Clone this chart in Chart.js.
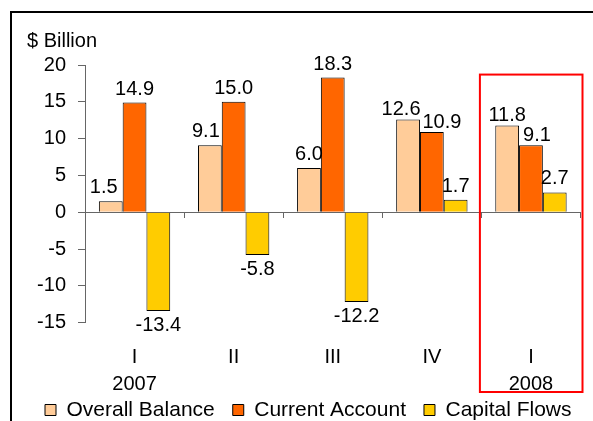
<!DOCTYPE html>
<html>
<head>
<meta charset="utf-8">
<script src="https://cdn.jsdelivr.net/npm/chart.js@4.4.1/dist/chart.umd.min.js"></script>
<style>
  html, body { margin: 0; padding: 0; background: #fff; }
  .wrap { position: relative; width: 593px; height: 421px; overflow: hidden; }
  .frame { position: absolute; left: 10px; top: 11px; width: 700px; height: 600px; border: 2px solid #000; pointer-events: none; }
</style>
</head>
<body>
<div class="wrap">
  <canvas id="bopChart" width="593" height="421"></canvas>
  <div class="frame"></div>
</div>
<script>
// quarters along the x axis, year shown under the first quarter of each year
const quarters = ['I', 'II', 'III', 'IV', 'I'];
const years = ['2007', '', '', '', '2008'];

// $ billion
const overallBalance = [1.5, 9.1, 6.0, 12.6, 11.8];
const currentAccount = [14.9, 15.0, 18.3, 10.9, 9.1];
const capitalFlows = [-13.4, -5.8, -12.2, 1.7, 2.7];

const yTicks = [-15, -10, -5, 0, 5, 10, 15, 20];

// red box around the latest quarter
const highlightIndex = 4;
const highlightTop = 18.7;

const FONT = '"Liberation Sans", Arial, sans-serif';
const AXIS_GREY = '#666';

Chart.defaults.font.family = FONT;
Chart.defaults.color = '#000';

// a few labels were nudged in the original so they don't collide
const labelNudge = {
  '0-0': [-7, 0], '0-1': [-4, 0],
  '0-3': [-7, 4], '1-3': [10, 4],
  '0-4': [0, 4], '1-4': [6, 4]
};

const valueLabels = {
  id: 'valueLabels',
  afterDatasetsDraw(chart) {
    const ctx = chart.ctx;
    ctx.save();
    ctx.font = '20px ' + FONT;
    ctx.fillStyle = '#000';
    ctx.textAlign = 'center';
    ctx.textBaseline = 'alphabetic';
    chart.data.datasets.forEach((ds, di) => {
      chart.getDatasetMeta(di).data.forEach((bar, i) => {
        const v = ds.data[i];
        const [dx, dy] = labelNudge[di + '-' + i] || [0, 0];
        const y = v >= 0 ? bar.y - 8 : bar.y + 20;
        ctx.fillText(v.toFixed(1), bar.x + dx, y + dy);
      });
    });
    ctx.restore();
  }
};

const X_PAD = 14;
const X_LINE = 26.4;

const highlightBox = {
  id: 'highlightBox',
  afterDraw(chart) {
    const { ctx } = chart;
    const x = chart.scales.x, y = chart.scales.y;
    const half = (x.getPixelForValue(1) - x.getPixelForValue(0)) / 2;
    const cx = x.getPixelForValue(highlightIndex);
    const top = y.getPixelForValue(highlightTop);
    const bottom = x.top + X_PAD + 2 * X_LINE + 2.5;
    ctx.save();
    ctx.strokeStyle = '#FF0000';
    ctx.lineWidth = 2;
    ctx.strokeRect(cx - half - 1.5, top, 2 * half + 3.5, bottom - top);
    ctx.restore();
  }
};

// the quarter labels hang down over the legend's top padding,
// so give the x axis its full height back before it is drawn (else they get clipped)
const xLabelRoom = {
  id: 'xLabelRoom',
  afterLayout(chart) {
    const x = chart.scales.x;
    x.bottom = x.top + X_PAD + 2 * X_LINE + 8;
  }
};

const labels = quarters.map((q, i) => years[i] ? [q, years[i]] : q);

new Chart(document.getElementById('bopChart'), {
  type: 'bar',
  data: {
    labels: labels,
    datasets: [
      { label: 'Overall Balance', data: overallBalance, backgroundColor: '#FFCC99', borderColor: '#000', borderWidth: 1 },
      { label: 'Current Account', data: currentAccount, backgroundColor: '#FF6600', borderColor: '#000', borderWidth: 1 },
      { label: 'Capital Flows', data: capitalFlows, backgroundColor: '#FFCC00', borderColor: '#000', borderWidth: 1 }
    ]
  },
  options: {
    responsive: false,
    animation: false,
    categoryPercentage: 0.72,
    barPercentage: 1.0,
    layout: { padding: { left: 27, right: 0, top: 21, bottom: 0 } },
    scales: {
      x: {
        grid: { display: false },
        border: { display: false },
        ticks: { padding: X_PAD, maxRotation: 0, font: { size: 20, lineHeight: X_LINE / 20 } },
        afterFit: s => { s.height = 58.8; }
      },
      x2: {
        type: 'category',
        position: { y: 0 },
        offset: true,
        grid: { offset: true, drawOnChartArea: false, tickLength: 5, color: AXIS_GREY },
        border: { display: true, color: AXIS_GREY },
        ticks: { display: false }
      },
      y: {
        min: yTicks[0],
        max: yTicks[yTicks.length - 1],
        afterBuildTicks: s => { s.ticks = yTicks.map(v => ({ value: v })); },
        grid: { drawOnChartArea: false, tickLength: 7, color: AXIS_GREY },
        border: { display: true, color: AXIS_GREY },
        ticks: { padding: 12, font: { size: 20 } },
        afterFit: s => { s.width = 58; }
      },
      // empty strip on the right: keeps the plot edge in place while the legend gets the full width
      yPad: {
        type: 'linear',
        position: 'right',
        grid: { display: false },
        border: { display: false },
        ticks: { display: false },
        afterFit: s => { s.width = 12.5; }
      }
    },
    plugins: {
      title: {
        display: true,
        text: '$ Billion',
        align: 'start',
        color: '#000',
        font: { size: 20, weight: 'normal', lineHeight: 1.2 },
        padding: { top: 8.5, bottom: 11.5 }
      },
      legend: {
        position: 'bottom',
        align: 'start',
        maxHeight: 39.5,
        labels: { boxWidth: 11, boxHeight: 11, padding: 18, color: '#000', font: { size: 21 } }
      },
      tooltip: { enabled: false }
    }
  },
  plugins: [valueLabels, highlightBox, xLabelRoom]
});
</script>
</body>
</html>
